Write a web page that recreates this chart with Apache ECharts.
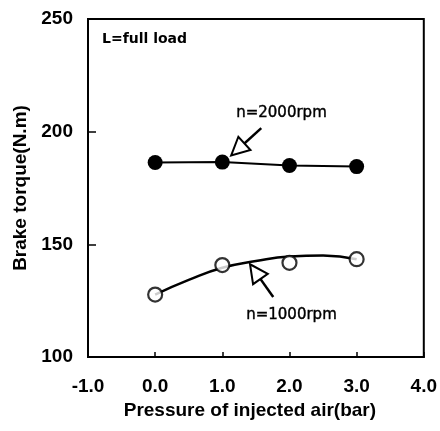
<!DOCTYPE html>
<html>
<head>
<meta charset="utf-8">
<script src="https://cdn.jsdelivr.net/npm/echarts@6/dist/echarts.min.js"></script>
<style>html,body{margin:0;padding:0;background:#fff}#c{width:440px;height:431px}</style>
</head>
<body>
<div id="c"></div>
<script>
// ---- data ----
var pressure = [0.0, 1.0, 2.0, 3.0];
var torque2000 = [186.3, 186.5, 185.0, 184.5];
var torque1000 = [127.7, 140.8, 141.8, 143.4];
// fitted curve for n=1000rpm
var curve1000X = [0.0, 0.5, 1.0, 1.5, 2.0, 2.5, 3.0];
var curve1000Y = [127.7, 134.2, 139.6, 142.6, 144.6, 145.0, 143.4];
// annotation arrows (data coords: tail -> head)
var arrow2000 = [[1.58, 201.6], [1.23, 192.1]];
var arrow1000 = [[1.758, 126.6], [1.49, 137.9]];
var xTicks = [-1.0, 0.0, 1.0, 2.0, 3.0, 4.0];
var yTicks = [100, 150, 200, 250];
var labels = { load: 'L=full load', s2000: 'n=2000rpm', s1000: 'n=1000rpm' };

function zip(a, b) { return a.map(function (v, i) { return [v, b[i]]; }); }

var FONT = '"Liberation Sans", Arial, sans-serif';
var chart = echarts.init(document.getElementById('c'));
chart.setOption({
  backgroundColor: '#fff',
  animation: false,
  grid: { left: 88, right: 13, top: 19, bottom: 74, show: true, borderColor: '#000', borderWidth: 2, backgroundColor: 'transparent' },
  xAxis: {
    type: 'value', min: xTicks[0], max: xTicks[xTicks.length - 1], interval: 1,
    name: 'Pressure of injected air(bar)', nameLocation: 'middle', nameGap: 40,
    nameTextStyle: { fontFamily: FONT, fontSize: 19, fontWeight: 'bold', color: '#000', padding: [0, 12, 0, 0] },
    axisLine: { onZero: false, lineStyle: { color: '#000', width: 2 } },
    axisTick: { inside: true, length: 5, lineStyle: { color: '#000', width: 1.5 } },
    axisLabel: { fontFamily: FONT, fontSize: 19, fontWeight: 'bold', color: '#000', margin: 20,
      formatter: function (v) { return v.toFixed(1); } },
    splitLine: { show: false }
  },
  yAxis: {
    type: 'value', min: yTicks[0], max: yTicks[yTicks.length - 1], interval: 50,
    name: 'Brake torque(N.m)', nameLocation: 'middle', nameGap: 54,
    nameTextStyle: { fontFamily: FONT, fontSize: 19, fontWeight: 'bold', color: '#000' },
    axisLine: { onZero: false, lineStyle: { color: '#000', width: 2 } },
    axisTick: { inside: true, length: 8, lineStyle: { color: '#000', width: 1.5 } },
    axisLabel: { fontFamily: FONT, fontSize: 19, fontWeight: 'bold', color: '#000', margin: 15 },
    splitLine: { show: false }
  },
  series: [
    {
      type: 'line', data: zip(pressure, torque2000), symbol: 'circle', symbolSize: 15,
      itemStyle: { color: '#000' }, lineStyle: { color: '#000', width: 2 }, z: 3,
      markLine: {
        silent: true, symbol: ['none', 'emptyTriangle'], symbolSize: [18, 18],
        lineStyle: { color: '#000', width: 2.5, type: 'solid' }, label: { show: false },
        data: [[{ coord: arrow2000[0] }, { coord: arrow2000[1] }]]
      }
    },
    {
      type: 'line', data: zip(curve1000X, curve1000Y), smooth: 0.5, symbol: 'none',
      lineStyle: { color: '#000', width: 2.5 }, z: 2,
      markLine: {
        silent: true, symbol: ['none', 'emptyTriangle'], symbolSize: [18, 18],
        lineStyle: { color: '#000', width: 2.5, type: 'solid' }, label: { show: false },
        data: [[{ coord: arrow1000[0] }, { coord: arrow1000[1] }]]
      }
    },
    {
      type: 'scatter', data: zip(pressure, torque1000), symbol: 'circle', symbolSize: 14,
      itemStyle: { color: '#fff', borderColor: '#000', borderWidth: 2.2 }, z: 4
    }
  ],
  graphic: [
    { type: 'text', left: 102, top: 32, style: { text: labels.load, fontFamily: '"DejaVu Sans", sans-serif', fontSize: 14, fontWeight: 'bold', fill: '#000' } },
    { type: 'text', left: 236, top: 105, style: { text: labels.s2000, fontFamily: '"DejaVu Sans", sans-serif', fontSize: 15, fill: '#000', stroke: '#000', lineWidth: 0.4 } },
    { type: 'text', left: 246, top: 307, style: { text: labels.s1000, fontFamily: '"DejaVu Sans", sans-serif', fontSize: 15, fill: '#000', stroke: '#000', lineWidth: 0.4 } }
  ]
});
</script>
</body>
</html>
